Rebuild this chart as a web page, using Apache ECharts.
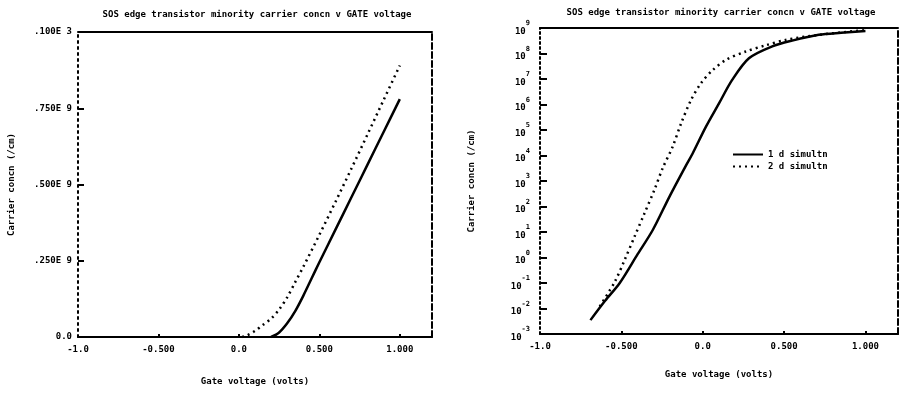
<!DOCTYPE html>
<html>
<head>
<meta charset="utf-8">
<script src="https://cdn.jsdelivr.net/npm/echarts@6/dist/echarts.min.js"></script>
<style>
  html, body { margin: 0; background: #fff; }
  #chart { width: 901px; height: 395px; }
</style>
</head>
<body>
<div id="chart"></div>
<script>
const titleText = 'SOS edge transistor minority carrier concn v GATE voltage';
const xName = 'Gate voltage (volts)';
const yName = 'Carrier concn (/cm)';
const seriesNames = ['1 d simultn', '2 d simultn'];

const xTickValues = [-1, -0.5, 0, 0.5, 1];
const xTickLabels = ['-1.0', '-0.500', '0.0', '0.500', '1.000'];
const leftYTickValues = [0, 0.25, 0.5, 0.75, 1];
const leftYTickLabels = ['0.0', '.250E 9', '.500E 9', '.750E 9', '.100E 3'];
const rightYTickValues = [1e-3, 1e-2, 1e-1, 1, 1e1, 1e2, 1e3, 1e4, 1e5, 1e6, 1e7, 1e8, 1e9];

// left panel: carrier concentration in units of 1e9 /cm, linear scale
const leftSolid = [
  [0.2, 0], [0.25, 0.015], [0.3, 0.045], [0.35, 0.085], [0.4, 0.135],
  [0.45, 0.19], [0.5, 0.245], [0.6, 0.352], [0.7, 0.459], [0.8, 0.566],
  [0.9, 0.673], [1.0, 0.78]
];
const leftDotted = [
  [0.02, 0.0], [0.05, 0.005], [0.1, 0.02], [0.15, 0.04], [0.2, 0.06],
  [0.25, 0.09], [0.3, 0.13], [0.35, 0.18], [0.4, 0.23], [0.5, 0.335],
  [0.6, 0.443], [0.7, 0.553], [0.8, 0.665], [0.9, 0.778], [1.0, 0.89]
];

// right panel: same quantity in /cm, log scale
const rightSolid = [
  [-0.69, 3.5e-3], [-0.6, 2e-2], [-0.51, 1e-1], [-0.4, 1.35], [-0.307, 12],
  [-0.205, 240], [-0.1, 4.4e3], [-0.062, 1.2e4], [0.02, 1.35e5], [0.1, 1.1e6],
  [0.18, 9e6], [0.284, 6.5e7], [0.427, 1.9e8], [0.55, 3.2e8], [0.713, 5.4e8],
  [0.85, 6.5e8], [1.0, 7.6e8]
];
const rightDotted = [
  [-0.633, 1.2e-2], [-0.541, 0.11], [-0.48, 0.8], [-0.419, 6.6], [-0.358, 54],
  [-0.297, 450], [-0.246, 3.2e3], [-0.185, 2.2e4], [-0.133, 1.8e5], [-0.072, 1.5e6],
  [-0.011, 6.8e6], [0.06, 2.2e7], [0.142, 5.6e7], [0.264, 1.2e8], [0.387, 2.1e8],
  [0.509, 3.4e8], [0.713, 5.4e8], [1.0, 8.3e8]
];

const FONT = 'DejaVu Sans Mono';
const txt = { color: '#000', fontFamily: FONT, fontWeight: 'bold', fontSize: 9 };

function lookup(values, labels) {
  return (v) => {
    const i = values.findIndex((t) => Math.abs(t - v) < 1e-9);
    return i < 0 ? '' : labels[i];
  };
}

function bottomX(gridIndex, nameGap) {
  return {
    gridIndex, type: 'value', min: -1, max: 1.2, position: 'bottom',
    name: xName, nameLocation: 'middle', nameGap, nameTextStyle: txt,
    axisLine: { onZero: false, lineStyle: { color: '#000', width: 2 } },
    axisTick: { inside: true, length: 3, customValues: [-0.5, 0, 0.5, 1], lineStyle: { color: '#000', width: 2 } },
    axisLabel: { ...txt, margin: 8, customValues: xTickValues, formatter: lookup(xTickValues, xTickLabels) },
    splitLine: { show: false },
  };
}

function topX(gridIndex) {
  return {
    gridIndex, type: 'value', min: -1, max: 1.2, position: 'top',
    axisLine: { onZero: false, lineStyle: { color: '#000', width: 2 } },
    axisTick: { show: false }, axisLabel: { show: false }, splitLine: { show: false },
  };
}

function rightY(gridIndex) {
  return {
    gridIndex, type: 'value', min: 0, max: 1, position: 'right',
    axisLine: { show: true, onZero: false, lineStyle: { color: '#000', width: 2, type: [6, 3] } },
    axisTick: { show: false }, axisLabel: { show: false }, splitLine: { show: false },
  };
}

const chart = echarts.init(document.getElementById('chart'), null, { renderer: 'canvas' });

chart.setOption({
  backgroundColor: '#fff',
  animation: false,
  title: [
    { text: titleText, left: 252, top: 5, textAlign: 'center', textStyle: txt },
    { text: titleText, left: 716, top: 3, textAlign: 'center', textStyle: txt },
  ],
  legend: {
    data: seriesNames,
    left: 727, top: 145, orient: 'vertical',
    itemWidth: 30, itemHeight: 8, itemGap: 3,
    itemStyle: { opacity: 0 },
    textStyle: txt,
  },
  grid: [
    { left: 78, right: 469, top: 32, bottom: 58 },
    { left: 540, right: 3, top: 28, bottom: 61 },
  ],
  xAxis: [bottomX(0, 40), topX(0), bottomX(1, 36), topX(1)],
  yAxis: [
    {
      gridIndex: 0, type: 'value', min: 0, max: 1, position: 'left',
      name: yName, nameLocation: 'middle', nameGap: 62, nameTextStyle: txt,
      axisLine: { onZero: false, lineStyle: { color: '#000', width: 2, type: [2, 4] } },
      axisTick: { inside: true, length: 6, customValues: [0.25, 0.5, 0.75], lineStyle: { color: '#000', width: 2 } },
      axisLabel: { ...txt, margin: 6, customValues: leftYTickValues, formatter: lookup(leftYTickValues, leftYTickLabels) },
      splitLine: { show: false },
    },
    rightY(0),
    {
      gridIndex: 1, type: 'log', logBase: 10, min: 1e-3, max: 1e9, position: 'left',
      name: yName, nameLocation: 'middle', nameGap: 64, nameTextStyle: txt,
      axisLine: { onZero: false, lineStyle: { color: '#000', width: 2, type: [2, 3] } },
      axisTick: { inside: true, length: 7, customValues: rightYTickValues, lineStyle: { color: '#000', width: 2 } },
      axisLabel: {
        ...txt, margin: 10, customValues: rightYTickValues,
        formatter: (v) => '{b|10}{s|' + Math.round(Math.log10(v)) + '}',
        rich: {
          b: { ...txt, fontSize: 9, verticalAlign: 'bottom', lineHeight: 16 },
          s: { ...txt, fontSize: 7, verticalAlign: 'top', lineHeight: 16 },
        },
      },
      splitLine: { show: false },
    },
    rightY(1),
  ],
  series: [
    {
      name: seriesNames[0], type: 'line', xAxisIndex: 0, yAxisIndex: 0,
      data: leftSolid, symbol: 'none', smooth: 0.3,
      lineStyle: { color: '#000', width: 2.5 }, itemStyle: { color: '#000' },
    },
    {
      name: seriesNames[1], type: 'line', xAxisIndex: 0, yAxisIndex: 0,
      data: leftDotted, symbol: 'none', smooth: 0.3,
      lineStyle: { color: '#000', width: 2.5, type: [2, 4] }, itemStyle: { color: '#000' },
    },
    {
      name: seriesNames[0], type: 'line', xAxisIndex: 2, yAxisIndex: 2,
      data: rightSolid, symbol: 'none', smooth: 0.3,
      lineStyle: { color: '#000', width: 2.5 }, itemStyle: { color: '#000' },
    },
    {
      name: seriesNames[1], type: 'line', xAxisIndex: 2, yAxisIndex: 2,
      data: rightDotted, symbol: 'none', smooth: 0.3,
      lineStyle: { color: '#000', width: 2.5, type: [2, 4] }, itemStyle: { color: '#000' },
    },
  ],
});
</script>
</body>
</html>
